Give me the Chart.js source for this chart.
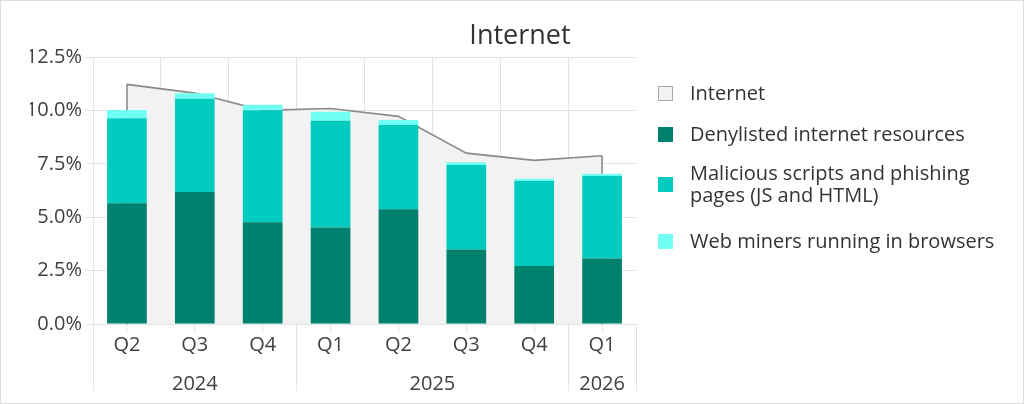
<!DOCTYPE html>
<html>
<head>
<meta charset="utf-8">
<script src="https://cdn.jsdelivr.net/npm/chart.js@4.4.1/dist/chart.umd.min.js"></script>
<style>
  html, body { margin: 0; padding: 0; background: #fff; }
  #wrap { position: relative; width: 1024px; height: 404px; overflow: hidden; background: #fff; }
  #chartBox { position: absolute; left: 0; top: 0; width: 1024px; height: 404px; }
  #frame { position: absolute; left: 0; top: 0; width: 1024px; height: 404px; box-sizing: border-box; border: 1px solid #dcdcdc; pointer-events: none; }
  #title { position: absolute; left: 400px; width: 240px; top: 18px; line-height: 32px; text-align: center; font-family: 'Open Sans', sans-serif; font-size: 27px; color: #333; }
  .item { position: absolute; left: 658px; font-family: 'Open Sans', sans-serif; font-size: 20px; line-height: 22px; color: #333; }
  .item .box { position: absolute; left: 0; width: 15px; height: 15px; box-sizing: border-box; }
  .item .txt { position: absolute; left: 32px; white-space: nowrap; }
</style>
</head>
<body>
<div id="wrap">
  <div id="chartBox"><canvas id="c"></canvas></div>
  <div id="title"></div>
  <div id="legend"></div>
  <div id="frame"></div>
</div>
<script>
// ---- data ----
const chartTitle = 'Internet';
const quarters = ['Q2', 'Q3', 'Q4', 'Q1', 'Q2', 'Q3', 'Q4', 'Q1'];
const yearLabels = ['2024', '2025', '2026'];
const yearSpans = [3, 4, 1];               // quarters per year group
const internetTotal = [11.22, 10.81, 10.0, 10.09, 9.72, 8.0, 7.66, 7.88];
const denylisted = [5.65, 6.18, 4.76, 4.52, 5.37, 3.49, 2.72, 3.07];
const maliciousScripts = [3.98, 4.36, 5.25, 5.00, 3.95, 3.95, 3.97, 3.86];
const webMiners = [0.39, 0.26, 0.26, 0.42, 0.23, 0.13, 0.11, 0.11];
const yTicks = [0, 2.5, 5, 7.5, 10, 12.5];
const seriesNames = ['Internet', 'Denylisted internet resources', ['Malicious scripts and phishing', 'pages (JS and HTML)'], 'Web miners running in browsers'];

// ---- style ----
const COL_AREA = '#f2f2f2', COL_AREA_LINE = '#8a8a8a';
const COL_DARK = '#00816d', COL_MID = '#00cbbe', COL_LIGHT = '#72fff3';
const GRID = '#e3e3e3';
const FONT = "'Open Sans', sans-serif";
const TXT = '#404040';
const TICK_SIZE = 20;
const NONE = 'rgba(0,0,0,0)';

// derived positions on the category index axis
const boundaries = [0];
yearSpans.forEach(s => boundaries.push(boundaries[boundaries.length - 1] + s));
const yearCenters = [];
for (let i = 0; i < yearSpans.length; i++) yearCenters.push((boundaries[i] + boundaries[i + 1] - 1) / 2);
const boundaryVals = boundaries.map(b => b - 0.5);
const idxMin = -0.5, idxMax = quarters.length - 0.5;

document.getElementById('title').textContent = chartTitle;

// legend
const legendDefs = [
  { name: seriesNames[0], fill: COL_AREA, border: '1.5px solid #a8a8a8', top: 81.5 },
  { name: seriesNames[1], fill: COL_DARK, border: 'none', top: 122.5 },
  { name: seriesNames[2], fill: COL_MID, border: 'none', top: 162 },
  { name: seriesNames[3], fill: COL_LIGHT, border: 'none', top: 229.5 }
];
const lg = document.getElementById('legend');
legendDefs.forEach(d => {
  const lines = Array.isArray(d.name) ? d.name : [d.name];
  const it = document.createElement('div');
  it.className = 'item';
  it.style.top = d.top + 'px';
  const h = lines.length * 22;
  const b = document.createElement('div');
  b.className = 'box';
  b.style.background = d.fill;
  b.style.border = d.border;
  b.style.top = (h / 2 - 7.5 + 0.5) + 'px';
  const t = document.createElement('div');
  t.className = 'txt';
  t.innerHTML = lines.join('<br>');
  it.appendChild(b); it.appendChild(t);
  lg.appendChild(it);
});

const areaEdges = {
  id: 'areaEdges',
  afterDatasetDraw(chart, args) {
    const ds = chart.data.datasets[args.index];
    if (!ds.drawEdges) return;
    const pts = args.meta.data;
    if (!pts.length) return;
    const base = chart.scales.y.getPixelForValue(0);
    const ctx = chart.ctx;
    ctx.save();
    ctx.strokeStyle = ds.borderColor;
    ctx.lineWidth = ds.borderWidth;
    [pts[0], pts[pts.length - 1]].forEach(p => {
      ctx.beginPath(); ctx.moveTo(p.x, p.y); ctx.lineTo(p.x, base); ctx.stroke();
    });
    ctx.restore();
  }
};

const barCommon = { type: 'bar', xAxisID: 'x', yAxisID: 'y', stack: 'bars', barPercentage: 0.585, categoryPercentage: 1.0, borderWidth: 0, order: 1 };

new Chart(document.getElementById('c'), {
  type: 'bar',
  data: {
    labels: quarters,
    datasets: [
      { type: 'line', xAxisID: 'x', yAxisID: 'y', label: seriesNames[0], data: internetTotal, stack: 'area', fill: 'origin',
        backgroundColor: COL_AREA, borderColor: COL_AREA_LINE, borderWidth: 1.6, pointRadius: 0,
        tension: 0, order: 10, drawEdges: true },
      Object.assign({ label: seriesNames[1], data: denylisted, backgroundColor: COL_DARK }, barCommon),
      Object.assign({ label: seriesNames[2].join(' '), data: maliciousScripts, backgroundColor: COL_MID }, barCommon),
      Object.assign({ label: seriesNames[3], data: webMiners, backgroundColor: COL_LIGHT }, barCommon)
    ]
  },
  options: {
    responsive: true,
    maintainAspectRatio: false,
    animation: false,
    layout: { padding: { left: 30, right: 388, top: 57, bottom: 13 } },
    plugins: { legend: { display: false }, tooltip: { enabled: false }, title: { display: false } },
    scales: {
      x: {
        type: 'category', position: 'bottom', weight: 1, stacked: true, offset: true,
        afterFit: (s) => { s.height = 23; },
        ticks: { font: { family: FONT, size: TICK_SIZE }, color: TXT, padding: -22, autoSkip: false, maxRotation: 0 },
        grid: {
          offset: true, drawOnChartArea: true, tickLength: 23,
          color: (ctx) => (ctx.type === 'tick' && ctx.index > 0) ? GRID : NONE,
          tickColor: (ctx) => {
            const i = ctx.type === 'tick' ? ctx.index : quarters.length;
            return boundaries.includes(i) ? GRID : NONE;
          }
        },
        border: { display: false }
      },
      y: {
        type: 'linear', position: 'left', stacked: true, min: 0, max: 12.5,
        afterBuildTicks: (s) => { s.ticks = yTicks.map(v => ({ value: v })); },
        afterFit: (s) => { s.width = 63; },
        ticks: { callback: v => Number(v).toFixed(1) + '%', font: { family: FONT, size: TICK_SIZE }, color: TXT, padding: 4 },
        grid: { color: GRID, tickLength: 7, tickColor: GRID },
        border: { color: GRID }
      },
      xc: {
        type: 'linear', axis: 'x', position: 'bottom', weight: 0, min: idxMin, max: idxMax,
        offset: false, bounds: 'data',
        afterBuildTicks: (s) => {
          const vals = quarters.map((q, i) => i).concat(boundaryVals);
          s.ticks = vals.sort((a, b) => a - b).map(v => ({ value: v }));
        },
        afterFit: (s) => { s.height = 8; },
        ticks: { display: false, autoSkip: false },
        grid: { offset: false, drawOnChartArea: false, tickLength: 8, tickColor: GRID, color: GRID },
        border: { display: true, color: GRID }
      },
      xy: {
        type: 'linear', axis: 'x', position: 'bottom', weight: 2, min: idxMin, max: idxMax,
        offset: false, bounds: 'data',
        afterBuildTicks: (s) => {
          s.ticks = yearCenters.concat(boundaryVals).sort((a, b) => a - b).map(v => ({ value: v }));
        },
        afterFit: (s) => { s.height = 36; },
        ticks: {
          autoSkip: false, maxRotation: 0, font: { family: FONT, size: TICK_SIZE }, color: TXT, padding: -19,
          callback: (v) => { const k = yearCenters.indexOf(v); return k >= 0 ? yearLabels[k] : ''; }
        },
        grid: {
          offset: false, drawOnChartArea: false, tickLength: 36, color: GRID,
          tickColor: (ctx) => (ctx.tick && boundaryVals.includes(ctx.tick.value)) ? GRID : NONE
        },
        border: { display: false }
      }
    }
  },
  plugins: [areaEdges]
});
</script>
</body>
</html>
